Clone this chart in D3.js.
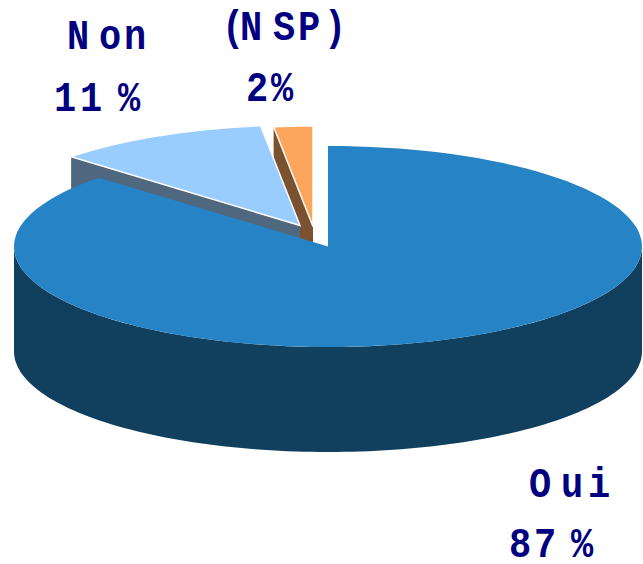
<!DOCTYPE html>
<html lang="en">
<head>
    <meta charset="UTF-8">
    <title>Oui / Non / NSP</title>
    <script src="https://d3js.org/d3.v7.min.js"></script>
    <style>
        html, body { margin: 0; padding: 0; background: #fff; }
        svg { display: block; }
        .label {
            font-family: "Liberation Mono", monospace;
            font-weight: bold;
            font-size: 42px;
            fill: #000080;
        }
    </style>
</head>
<body>
    <svg width="643" height="564"></svg>

    <script>
        // Values as printed on the chart
        const categories = ["Oui", "Non", "(NSP)"];
        const values = [87, 11, 2];
        const percentLabels = ["87 %", "11 %", "2%"];

        // Colours per slice
        const topColors = ["#2583c6", "#99ccff", "#fba55d"];
        const wallColors = ["#11405f", "#4f6880", "#7b5230"];

        // How far each slice is pulled out of the pie
        const explode = [[0, 0], [-28, -21], [-15, -20]];

        // Letter positions and baselines, the labels are widely spaced
        const nameX = [[529, 561, 588], [67, 99, 124], [222, 240, 273, 298, 324]];
        const nameY = [497, 49, 40];
        const pctX = [[509, 534, 555, 571], [54, 80, 102, 118], [246, 271]];
        const pctY = [557, 111, 101];

        const svg = d3.select("svg");
        const depth = 105;
        const textScale = 0.88;

        // Unit circle to screen ellipse
        const x = d3.scaleLinear().domain([-1, 1]).range([14, 642]);
        const y = d3.scaleLinear().domain([-1, 1]).range([146, 347]);

        const slices = d3.pie().sort(null)(values);
        const line = d3.line();

        // Point on the rim for a clockwise angle from 12 o'clock
        const rim = (a, i) => [
            x(Math.sin(a)) + explode[i][0],
            y(-Math.cos(a)) + explode[i][1]
        ];
        const apex = i => [x(0) + explode[i][0], y(0) + explode[i][1]];
        const down = p => [p[0], p[1] + depth];
        const arcPts = (a0, a1, i) =>
            d3.range(0, 121).map(k => rim(a0 + (a1 - a0) * k / 120, i));

        // Far slices first, the big one last so it hides their walls
        [2, 1, 0].forEach(i => {
            const s = slices[i];
            const g = svg.append("g");

            if (i === 0) {
                // Outer wall, only the part facing the viewer
                const front = arcPts(Math.PI / 2, 3 * Math.PI / 2, i);
                g.append("path")
                    .attr("d", line(front.concat(front.map(down).reverse())) + "Z")
                    .attr("fill", wallColors[i]);
            } else {
                // Cut face along the slice's left edge
                const p = rim(s.startAngle, i);
                const c = apex(i);
                g.append("path")
                    .attr("d", line([p, c, down(c), down(p)]) + "Z")
                    .attr("fill", wallColors[i]);
            }

            g.append("path")
                .attr("d", line([apex(i)].concat(arcPts(s.startAngle, s.endAngle, i))) + "Z")
                .attr("fill", topColors[i])
                .attr("stroke", i === 0 ? "none" : "#fff")
                .attr("stroke-width", 1.5);
        });

        // Labels, narrowed a little because the original letters are tall
        const addLabel = (txt, xs, yy) => svg.append("text")
            .attr("class", "label")
            .attr("transform", `scale(${textScale},1)`)
            .attr("x", xs.map(v => v / textScale).join(" "))
            .attr("y", yy)
            .text(txt);

        categories.forEach((c, i) => {
            addLabel(c, nameX[i], nameY[i]);
            addLabel(percentLabels[i], pctX[i], pctY[i]);
        });
    </script>
</body>
</html>
